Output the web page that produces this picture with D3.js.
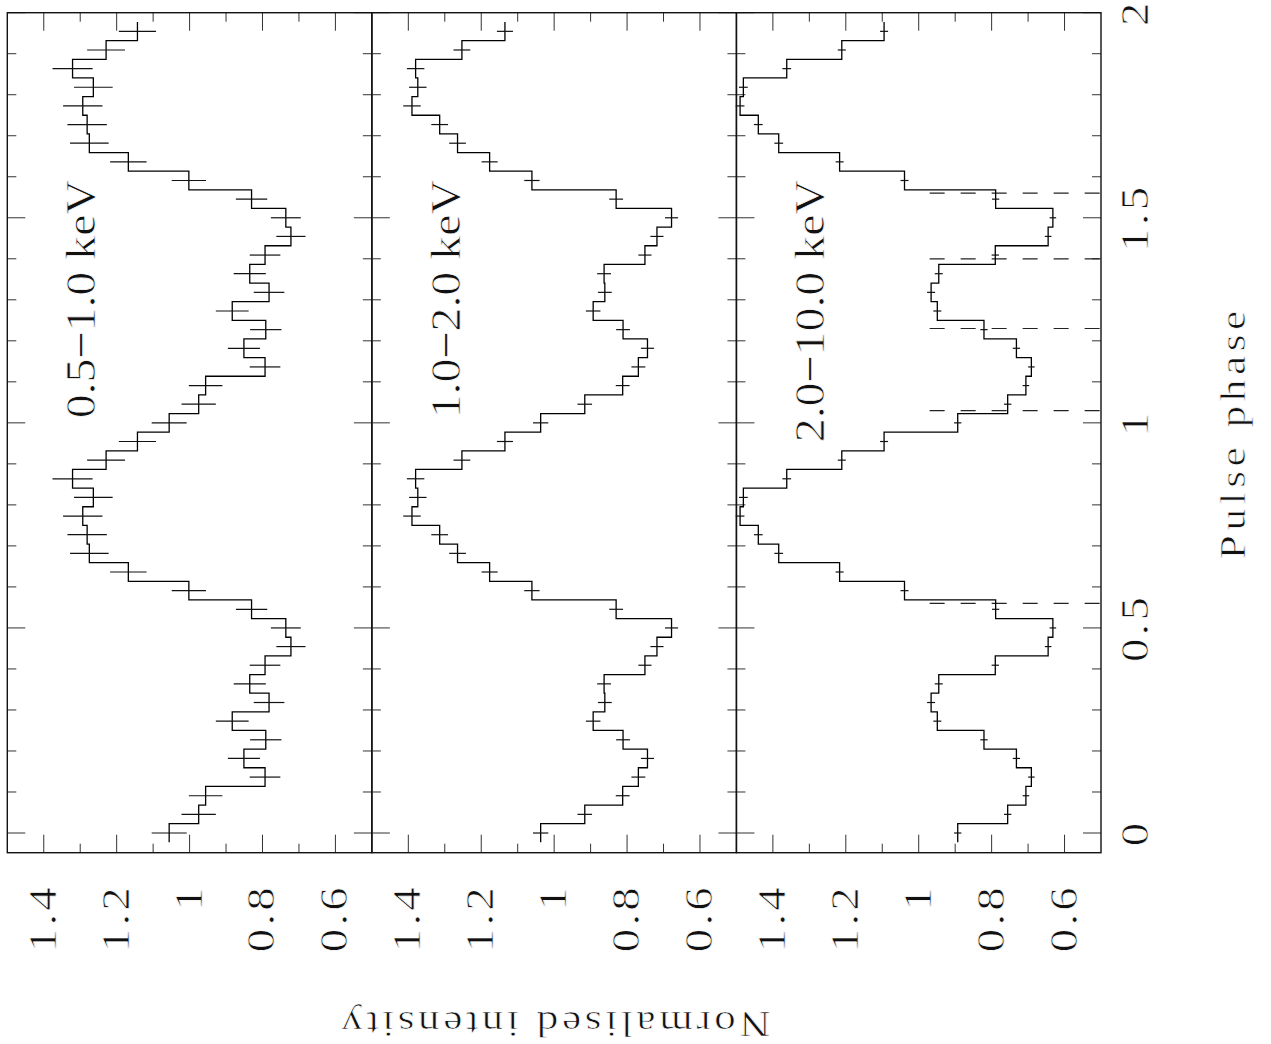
<!DOCTYPE html>
<html>
<head>
<meta charset="utf-8">
<script src="https://cdn.jsdelivr.net/npm/d3@7"></script>
<style>
  body { margin: 0; background: #fff; }
  svg { display: block; }
  text {
    font-family: "Liberation Serif", "DejaVu Serif", serif;
    fill: #111;
    stroke: #fff;
    stroke-width: 0.7px;
  }
  tspan.thin { stroke: none; fill: #222; }
</style>
</head>
<body>
<svg id="chart" width="1271" height="1044"></svg>
<script>
// Pulse profiles, 22 phase bins per cycle, shown over two cycles.
const bandLabels = ["0.5\u22121.0 keV", "1.0\u22122.0 keV", "2.0\u221210.0 keV"];

const softRate = [1.056, 0.975, 0.956, 0.793, 0.851, 0.791, 0.883, 0.782, 0.835, 0.793, 0.722,
                  0.736, 0.830, 1.002, 1.168, 1.275, 1.281, 1.293, 1.264, 1.321, 1.229, 1.143];
const softErr  = [0.048, 0.047, 0.046, 0.042, 0.044, 0.043, 0.045, 0.042, 0.044, 0.042, 0.040,
                  0.041, 0.043, 0.047, 0.050, 0.053, 0.054, 0.054, 0.053, 0.055, 0.052, 0.051];

const midRate  = [1.037, 0.916, 0.812, 0.769, 0.744, 0.811, 0.893, 0.861, 0.863, 0.751, 0.718,
                  0.678, 0.830, 1.061, 1.177, 1.265, 1.314, 1.390, 1.374, 1.380, 1.253, 1.135];
const midErr   = [0.021, 0.020, 0.019, 0.019, 0.018, 0.019, 0.020, 0.019, 0.019, 0.018, 0.018,
                  0.018, 0.019, 0.021, 0.022, 0.023, 0.023, 0.024, 0.024, 0.024, 0.023, 0.022];

const hardRate = [0.893, 0.756, 0.706, 0.691, 0.732, 0.821, 0.949, 0.966, 0.945, 0.790, 0.645,
                  0.632, 0.789, 1.039, 1.217, 1.384, 1.440, 1.490, 1.481, 1.362, 1.211, 1.095];
const hardErr  = [0.010, 0.010, 0.009, 0.009, 0.010, 0.010, 0.011, 0.011, 0.011, 0.010, 0.009,
                  0.009, 0.010, 0.011, 0.011, 0.012, 0.012, 0.012, 0.012, 0.012, 0.011, 0.011];

const cycles = 2;
const intensityDomain = [1.5, 0.5];
const intensityMajor = [1.4, 1.2, 1.0, 0.8, 0.6];
const intensityMinor = [1.3, 1.1, 0.9, 0.7];
const intensityTickLabels = ["1.4", "1.2", "1", "0.8", "0.6"];
const phaseDomain = [-0.048, 2.0];
const phaseMajor = [0, 0.5, 1, 1.5, 2];
const phaseMinor = [0.1, 0.2, 0.3, 0.4, 0.6, 0.7, 0.8, 0.9, 1.1, 1.2, 1.3, 1.4, 1.6, 1.7, 1.8, 1.9];
const phaseTickLabels = ["0", "0.5", "1", "1.5", "2"];
// phase boundaries marked in the hard band, drawn from this intensity to the panel edge
const markerPhases = [0.56, 1.03, 1.23, 1.40, 1.56];
const markerFrom = 0.97;

const bands = [
  { label: bandLabels[0], rate: softRate, err: softErr, markers: [] },
  { label: bandLabels[1], rate: midRate,  err: midErr,  markers: [] },
  { label: bandLabels[2], rate: hardRate, err: hardErr, markers: markerPhases }
];

const svg = d3.select("#chart");
const frame = { left: 7.3, right: 1101, top: 12.7, bottom: 852.7 };
const majorLen = 18, minorLen = 9;

const phase = d3.scaleLinear().domain(phaseDomain).range([frame.bottom, frame.top]);
const panelEdge = d3.scaleLinear().domain([0, bands.length]).range([frame.left, frame.right]);

// rotated text: reading direction turned to point up the page
function upText(g, x, y, str, size, anchor, spacing, stretch) {
  const t = g.append("text")
    .attr("transform", `translate(${x},${y}) rotate(-90) scale(${stretch},1)`)
    .attr("text-anchor", anchor)
    .style("font-size", size + "px")
    .style("letter-spacing", spacing + "px");
  // the minus sign is a hairline glyph: keep it out of the thinning stroke
  str.split(/(\u2212)/).forEach(part => {
    if (!part) return;
    t.append("tspan").attr("class", part === "\u2212" ? "thin" : null).text(part);
  });
  return t;
}

bands.forEach((band, i) => {
  const x0 = panelEdge(i), x1 = panelEdge(i + 1);
  const x = d3.scaleLinear().domain(intensityDomain).range([x0, x1]);
  const g = svg.append("g");
  const nBins = band.rate.length;

  // tick marks on all four sides of the panel
  const ticks = g.append("g").attr("stroke", "#333").attr("stroke-width", 1);
  [[intensityMajor, majorLen], [intensityMinor, minorLen]].forEach(([vals, len]) => {
    vals.forEach(v => {
      ticks.append("line").attr("x1", x(v)).attr("x2", x(v))
        .attr("y1", frame.top).attr("y2", frame.top + len);
      ticks.append("line").attr("x1", x(v)).attr("x2", x(v))
        .attr("y1", frame.bottom).attr("y2", frame.bottom - len);
    });
  });
  [[phaseMajor, majorLen], [phaseMinor, minorLen]].forEach(([vals, len]) => {
    vals.forEach(p => {
      ticks.append("line").attr("x1", x0).attr("x2", x0 + len)
        .attr("y1", phase(p)).attr("y2", phase(p));
      ticks.append("line").attr("x1", x1).attr("x2", x1 - len)
        .attr("y1", phase(p)).attr("y2", phase(p));
    });
  });

  // dashed phase markers
  band.markers.forEach(p => {
    g.append("line")
      .attr("x1", x(markerFrom)).attr("x2", x(intensityDomain[1]))
      .attr("y1", phase(p)).attr("y2", phase(p))
      .attr("stroke", "#222").attr("stroke-width", 1.2)
      .attr("stroke-dasharray", "15,16");
  });

  // histogram over two cycles
  const pts = [];
  const bars = [];
  for (let c = 0; c < cycles; c++) {
    for (let k = 0; k < nBins; k++) {
      const p = (c * nBins + k) / nBins;
      const v = band.rate[k];
      pts.push([v, p - 0.5 / nBins], [v, p + 0.5 / nBins]);
      bars.push({ p, v, e: band.err[k] });
    }
  }
  const line = d3.line().x(d => x(d[0])).y(d => phase(d[1]));
  g.append("path").attr("d", line(pts))
    .attr("fill", "none").attr("stroke", "#000").attr("stroke-width", 1.3);

  // error bars at bin centres
  g.append("g").selectAll("line").data(bars).join("line")
    .attr("x1", d => x(d.v - d.e)).attr("x2", d => x(d.v + d.e))
    .attr("y1", d => phase(d.p)).attr("y2", d => phase(d.p))
    .attr("stroke", "#111").attr("stroke-width", 1.2);

  // panel frame
  g.append("rect").attr("x", x0).attr("y", frame.top)
    .attr("width", x1 - x0).attr("height", frame.bottom - frame.top)
    .attr("fill", "none").attr("stroke", "#111").attr("stroke-width", 1.4);

  // energy band label
  upText(g, x0 + 88, 180, band.label, 42, "end", 0, 1.14);

  // intensity tick labels
  intensityMajor.forEach((v, j) => {
    upText(g, x(v) + 12, 884, intensityTickLabels[j], 39, "end", 2.7, 1.2);
  });
});

// phase tick labels
phaseMajor.forEach((p, j) => {
  upText(svg, 1148, phase(p), phaseTickLabels[j], 39, "middle", 2.7, 1.2);
});

// axis titles
upText(svg, 1245, (frame.top + frame.bottom) / 2, "Pulse phase", 36, "middle", 3.8, 1.2);
svg.append("text")
  .attr("transform", `translate(${(frame.left + frame.right) / 2},1012) rotate(180) scale(1.2,1)`)
  .attr("text-anchor", "middle")
  .style("font-size", "36px")
  .style("letter-spacing", "3px")
  .text("Normalised intensity");
</script>
</body>
</html>
